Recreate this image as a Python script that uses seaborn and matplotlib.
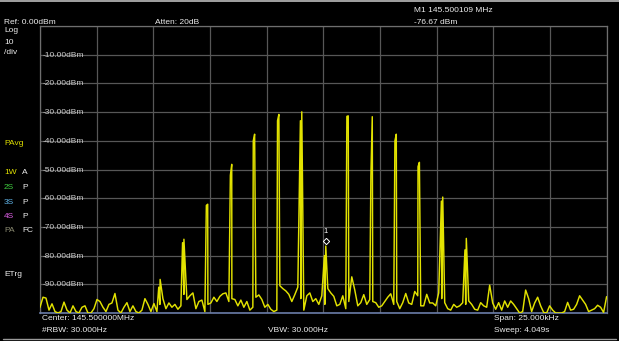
import numpy as np
import pandas as pd
import matplotlib
matplotlib.use("Agg")
import matplotlib.pyplot as plt
import seaborn as sns

# ---------------- data ----------------
# frequency offset from centre 145.500000 MHz, in kHz (span 25 kHz)
span_khz = 25.0
# noise-floor trace, dBm, evenly spaced across the span
noise_dbm = [
    -98, -94.5, -94.8, -99, -96.8, -99.5, -100, -99.5, -96.2, -99,
    -100, -97.5, -99.5, -100, -98, -97.5, -100, -100, -98.5, -95.3,
    -96, -98, -99.5, -97, -96.5, -93.2, -99, -100, -98, -96.4,
    -99.5, -97.5, -99.5, -100, -99, -95, -97, -99.5, -96.7, -99.5,
    -97, -95, -98.5, -96.5, -98, -97, -98.7, -97.5, -93.5, -95.3,
    -94, -93, -98.5, -96, -95.5, -99.5, -97, -96.5, -94.5, -96,
    -94.2, -93.3, -93, -96, -95, -95.3, -97.5, -95.5, -98, -96,
    -99, -98, -94.5, -93.7, -95.3, -98, -97, -98.7, -99.5, -99,
    -90.5, -91.5, -92.3, -93.5, -96, -93.6, -91, -95, -99, -94,
    -93, -96, -95, -97, -94, -97, -91.5, -93, -94.2, -97.5,
    -97, -94, -98.5, -96, -87.4, -92, -97.5, -96.4, -93.6, -97,
    -95.3, -96, -96.4, -98, -97.5, -96, -94.5, -93.3, -97, -96,
    -98.5, -96.4, -93.2, -96.5, -97, -92.5, -94, -97.5, -97.5, -93.5,
    -96.5, -96.5, -97.5, -93, -95, -96.4, -98.5, -99, -97, -98,
    -97.5, -96.4, -97, -95.8, -97, -98.7, -99, -96.4, -97.5, -98,
    -90.3, -96.5, -98.7, -96.4, -99, -95.8, -98, -95.8, -97, -98.5,
    -100, -99.5, -92, -95, -99.5, -96.5, -94.5, -97.5, -99.8, -100,
    -97.5, -99, -100, -100, -100, -99.5, -96.3, -99, -98.7, -97,
    -94, -95.5, -97, -99.5, -99, -98.5, -97.3, -98, -99.8, -94.3,
]
# discrete spectral lines (kHz offset, dBm) and the level of the trace
# sample just left of each line (the lines look two samples wide)
tone_khz = [-7.20, -6.15, -5.10, -4.04, -3.03, -1.96, -0.95, 0.109,
            1.10, 2.16, 3.22, 4.24, 5.27, 6.31]
tone_dbm = [-88.3, -74.3, -62.1, -48.2, -37.7, -30.8, -29.9, -76.67,
            -31.3, -31.6, -37.7, -47.5, -59.6, -74.0]
tone_left_dbm = [-91.0, -75.5, -62.5, -52.0, -40.0, -33.0, -33.0, -80.0,
                 -31.5, -52.0, -40.0, -49.0, -61.0, -78.0]
tone_left_gap_khz = 0.06
marker_khz = 0.109
marker_dbm = -76.67
level_labels = ["-10.00dBm", "-20.00dBm", "-30.00dBm", "-40.00dBm", "-50.00dBm",
                "-60.00dBm", "-70.00dBm", "-80.00dBm", "-90.00dBm"]
level_values = [-10, -20, -30, -40, -50, -60, -70, -80, -90]

# ---------------- build trace ----------------
noise_khz = np.linspace(-span_khz / 2, span_khz / 2, len(noise_dbm))
left_khz = np.array(tone_khz) - tone_left_gap_khz
df = pd.DataFrame({
    "khz": np.concatenate([noise_khz, left_khz, tone_khz]),
    "dbm": np.concatenate([noise_dbm, tone_left_dbm, tone_dbm]),
}).sort_values("khz").reset_index(drop=True)

# ---------------- figure ----------------
sns.set_theme(style="dark")
plt.rcParams["font.family"] = ["Liberation Sans", "DejaVu Sans"]
W, H = 619, 341
fig = plt.figure(figsize=(W / 100, H / 100), dpi=100, facecolor="black")

L, R, T, B = 40, 606.6, 26, 313
ax = fig.add_axes([L / W, 1 - B / H, (R - L) / W, (B - T) / H])
ax.set_facecolor("black")

sns.lineplot(data=df, x="khz", y="dbm", ax=ax, color="#e2e200",
             linewidth=1.05, estimator=None, sort=False, zorder=3)

ax.set_xlim(-span_khz / 2, span_khz / 2)
ax.set_ylim(-100, 0)
ax.set_xticks(np.linspace(-span_khz / 2, span_khz / 2, 11))
ax.set_yticks(np.arange(-100, 1, 10))
ax.tick_params(length=0, labelbottom=False, labelleft=False)
ax.set_xlabel("")
ax.set_ylabel("")
ax.grid(True, color="#575757", linewidth=0.9)
for s in ["left", "right", "top"]:
    ax.spines[s].set_color("#6e6e6e")
    ax.spines[s].set_linewidth(0.9)
ax.spines["bottom"].set_color("#6a7ca8")
ax.spines["bottom"].set_linewidth(1.2)

# marker
ax.plot([marker_khz], [marker_dbm + 1.8], marker="D", markersize=3.2,
        markerfacecolor="none", markeredgecolor="white", markeredgewidth=0.7,
        zorder=5)
ax.text(marker_khz, marker_dbm + 5.0, "1", color="white", fontsize=5.5,
        ha="center", va="center", zorder=5)

# level labels inside plot
for lab, v in zip(level_labels, level_values):
    ax.text(0.005, v - 1.4, lab, transform=ax.get_yaxis_transform(),
            color="#cccccc", fontsize=6, ha="left", va="bottom")

def ftext(x, y, s, color="#ececec", **kw):
    fig.text(x / W, 1 - y / H, s, color=color, fontsize=6, ha="left",
             va="center", **kw)

ftext(4, 22, "Ref: 0.00dBm")
ftext(155, 22, "Atten: 20dB")
ftext(414, 11, "M1 145.500109 MHz")
ftext(414, 22, "-76.67 dBm")
ftext(4, 31, "Log")
ftext(4, 43, "10")
ftext(4, 53, "/div")
ftext(4, 143, "PAvg", color="#e0e000")
ftext(4, 173, "1W", color="#e0e000")
ftext(22, 173, "A")
ftext(4, 188, "2S", color="#40d040")
ftext(22, 188, "P")
ftext(4, 202, "3S", color="#60b4e8")
ftext(22, 202, "P")
ftext(4, 216.5, "4S", color="#e060e8")
ftext(22, 216.5, "P")
ftext(4, 231, "PA", color="#8a8a70")
ftext(22, 231, "FC")
ftext(4, 274, "ETrg")
ftext(42, 319, "Center: 145.500000MHz")
ftext(42, 330, "#RBW: 30.000Hz")
ftext(268, 330, "VBW: 30.000Hz")
ftext(494, 319, "Span: 25.000kHz")
ftext(494, 330, "Sweep: 4.049s")

# thin frame lines at top edge and bottom panel
fig.add_artist(plt.Line2D([0, 1], [1 - 0.5 / H, 1 - 0.5 / H], color="#bdbdbd",
                          linewidth=1.2, transform=fig.transFigure))
fig.add_artist(plt.Line2D([3 / W, (W - 3) / W], [1 - 338.5 / H, 1 - 338.5 / H],
                          color="#9a9a9a", linewidth=1.0,
                          transform=fig.transFigure))

fig.savefig("out.png", dpi=100, facecolor="black")
